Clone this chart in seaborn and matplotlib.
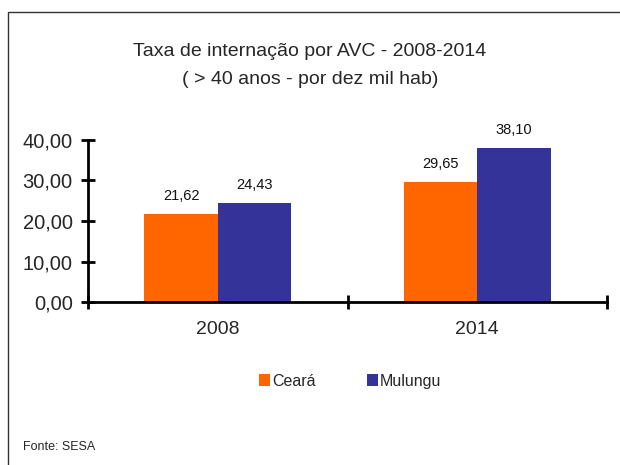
import pandas as pd
import numpy as np
import matplotlib
matplotlib.use('Agg')
import matplotlib.pyplot as plt
import seaborn as sns
from matplotlib.patches import Rectangle

# data
anos = ['2008', '2014']
ceara = [21.62, 29.65]
mulungu = [24.43, 38.10]
series = ['Ceará', 'Mulungu']
cores = ['#FF6600', '#333399']
yticks = [0, 10, 20, 30, 40]

df = pd.DataFrame({
    'ano': anos * 2,
    'local': [series[0]] * len(anos) + [series[1]] * len(anos),
    'taxa': ceara + mulungu,
})

sns.set_theme(style='white')
plt.rcParams['font.family'] = ['Liberation Sans', 'DejaVu Sans']

fig = plt.figure(figsize=(6.2, 4.65), dpi=100)
ax = fig.add_axes([88 / 620, 1 - 302 / 465, (607 - 88) / 620, (302 - 140) / 465])

sns.barplot(data=df, x='ano', y='taxa', hue='local', order=anos, hue_order=series,
            palette=cores, width=0.565, saturation=1, linewidth=0, ax=ax, legend=True)

# value labels with comma decimals
for cont in ax.containers:
    vals = [b.get_height() for b in cont]
    ax.bar_label(cont, labels=[f'{v:.2f}'.replace('.', ',') for v in vals],
                 padding=8, fontsize=10.5, color='#111111')

ax.set_xlim(-0.5, 1.5)
ax.set_ylim(0, 40)
ax.set_yticks(yticks)
ax.set_yticklabels([f'{v:.2f}'.replace('.', ',') for v in yticks], fontsize=14.5)
ax.set_xticks([0, 1])
ax.set_xticklabels(anos, fontsize=14)
ax.set_xticks([-0.5, 0.5, 1.5], minor=True)
ax.tick_params(axis='x', which='major', bottom=True, length=0, pad=14)
ax.tick_params(axis='x', which='minor', bottom=True, length=10, width=2,
               direction='inout', color='black')
ax.tick_params(axis='y', left=True, length=10, width=2, direction='inout',
               color='black', pad=6)
ax.set_xlabel('')
ax.set_ylabel('')
for s in ['top', 'right']:
    ax.spines[s].set_visible(False)
for s in ['left', 'bottom']:
    ax.spines[s].set_linewidth(2)
    ax.spines[s].set_color('black')

# legend below the axes
h, l = ax.get_legend_handles_labels()
ax.legend(h, l, loc='center', bbox_to_anchor=(350 / 620, 1 - 381 / 465),
          bbox_transform=fig.transFigure, ncol=2, frameon=False, fontsize=11.5,
          handlelength=0.7, handleheight=0.7, handletextpad=0.1, columnspacing=3.2)

fig.text(310 / 620, 1 - 52 / 465, 'Taxa de internação por AVC - 2008-2014',
         ha='center', va='center', fontsize=14)
fig.text(310 / 620, 1 - 79 / 465, '( > 40 anos - por dez mil hab)',
         ha='center', va='center', fontsize=14)
fig.text(23 / 620, 1 - 447 / 465, 'Fonte: SESA', ha='left', va='center', fontsize=9)

# outer frame (left and top edges visible)
fig.add_artist(Rectangle((8 / 620, -0.1), 1.2, 1.1 - 12 / 465, transform=fig.transFigure,
                         fill=False, edgecolor='#333333', linewidth=1))

fig.savefig('out.png', dpi=100)
